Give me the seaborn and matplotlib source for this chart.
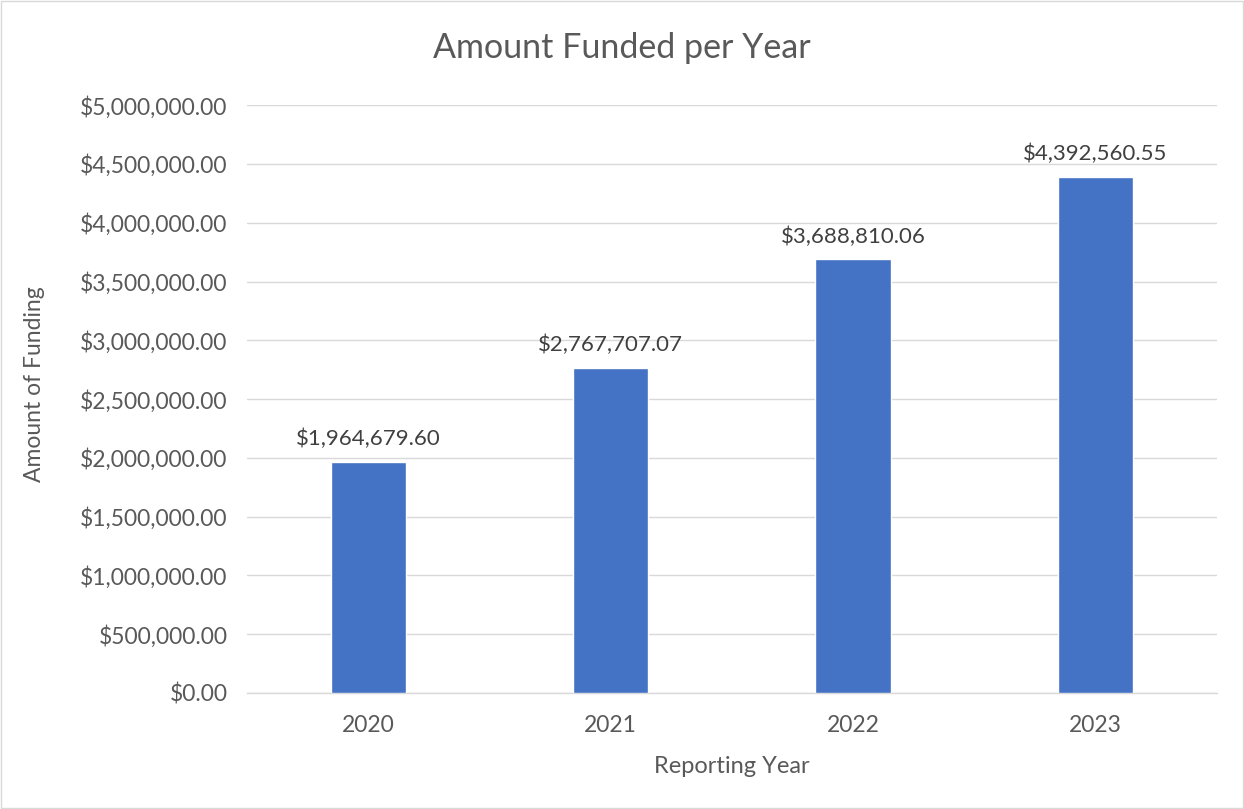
import matplotlib
matplotlib.use("Agg")
import matplotlib.pyplot as plt
import seaborn as sns
import pandas as pd
from matplotlib.ticker import FuncFormatter, MultipleLocator
from matplotlib.patches import Rectangle

years = ["2020", "2021", "2022", "2023"]
amounts = [1964679.60, 2767707.07, 3688810.06, 4392560.55]

sns.set_theme(style="white")
plt.rcParams['font.family'] = ['Lato', 'DejaVu Sans']

df = pd.DataFrame({"Reporting Year": years, "Amount": amounts})

fig = plt.figure(figsize=(12.44, 8.09), dpi=100)
ax = fig.add_axes([0.1986, 0.1434, 0.7794, 0.7266])
text_c = "#595959"

sns.barplot(data=df, x="Reporting Year", y="Amount", color="#4472C4",
            saturation=1, width=0.31, ax=ax, zorder=3)

ax.set_ylim(0, 5000000)
ax.yaxis.set_major_locator(MultipleLocator(500000))
ax.yaxis.set_major_formatter(FuncFormatter(lambda v, p: f"${v:,.2f}"))
ax.grid(axis="y", color="#D9D9D9", linewidth=1, zorder=0)
ax.set_axisbelow(True)
for s in ["top", "right", "left"]:
    ax.spines[s].set_visible(False)
ax.spines["bottom"].set_color("#D9D9D9")
ax.spines["bottom"].set_linewidth(1)
ax.set_xlim(-0.5, 3.5)

ax.tick_params(axis="y", length=0, labelsize=16.5, colors=text_c, pad=14)
ax.tick_params(axis="x", length=0, labelsize=16.5, colors=text_c, pad=16)
ax.set_xlabel("Reporting Year", fontsize=17, color=text_c, labelpad=14)
ax.set_ylabel("Amount of Funding", fontsize=16.5, color=text_c)
ax.yaxis.set_label_coords(-0.208, 0.525)
fig.suptitle("Amount Funded per Year", fontsize=24.5, color=text_c, x=0.5, y=0.96)

for c in ax.containers:
    ax.bar_label(c, labels=[f"${v:,.2f}" for v in amounts], padding=9,
                 fontsize=16, color="#404040")

fig.patches.append(Rectangle((0.001, 0.001), 0.998, 0.998, transform=fig.transFigure,
                             fill=False, edgecolor="#D9D9D9", linewidth=1))

fig.savefig("out.png", dpi=100)
